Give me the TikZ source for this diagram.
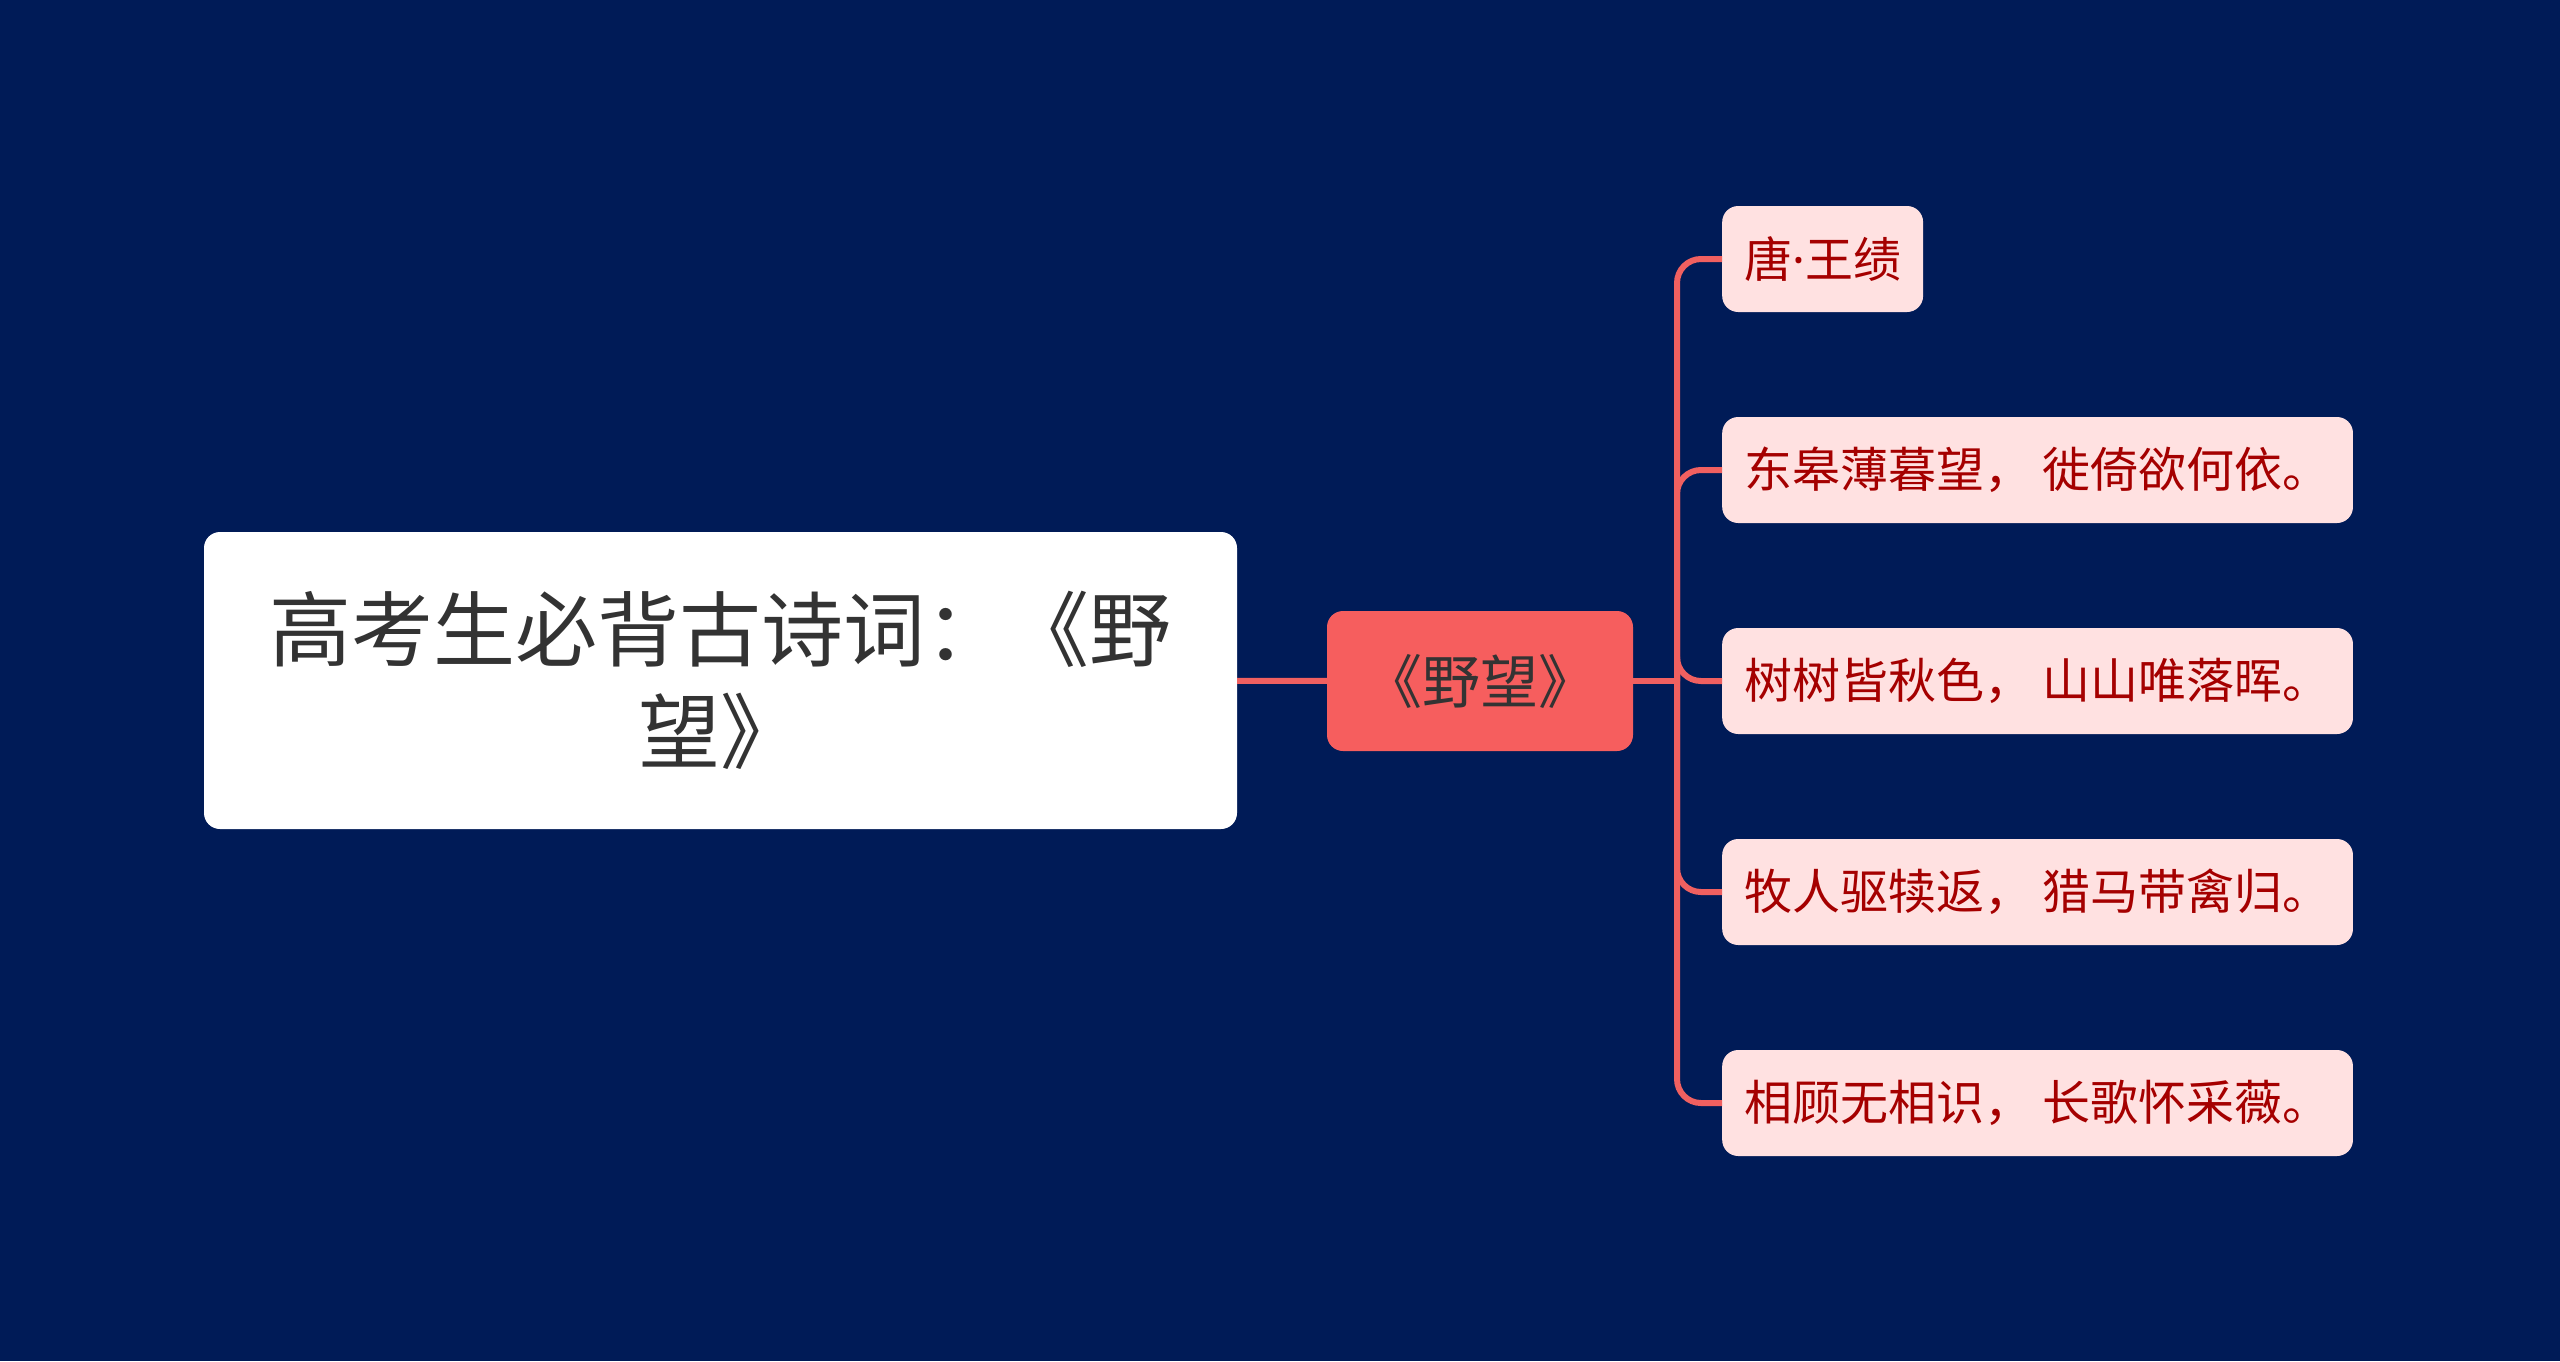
\documentclass[tikz,border=0pt]{standalone}
\usepackage{fontspec}
\setmainfont{Noto Sans CJK SC}
\newfontfamily\dotfont{Noto Sans}
\usepackage{xcolor}
\usetikzlibrary{positioning, math}
\definecolor{mybg}{RGB}{0,27,87}
\definecolor{myline}{RGB}{240,96,96}
\definecolor{mymid}{RGB}{246,94,94}
\definecolor{myleaf}{RGB}{255,225,225}
\definecolor{myleaftext}{RGB}{165,0,0}
\definecolor{mytext}{RGB}{51,51,51}

\begin{document}
\begin{tikzpicture}[x=1pt,y=-1pt,
  titlebox/.style={fill=white, rounded corners=16, minimum width=1033, minimum height=297,
    align=center, text=mytext, font=\fontsize{82}{102}\selectfont},
  poembox/.style={fill=mymid, rounded corners=16, minimum width=306, minimum height=140,
    text=mytext, font=\fontsize{58}{62}\selectfont},
  linebox/.style={fill=myleaf, rounded corners=16, minimum height=106, inner xsep=22,
    anchor=west, text=myleaftext, font=\fontsize{48}{52}\selectfont},
  link/.style={draw=myline, line width=6}]
\tikzmath{
\dy=211;
\yc=681;
}

\fill[mybg] (0,0) rectangle (2560,1361);

\node[titlebox] (T) at (720.5,680.5) {高考生必背古诗词：《野\\望》};
\node[poembox] (P) at (1480,\yc) {《野望》};

\node[linebox] (L1) at (1722,\yc-2*\dy) {唐{\dotfont ·}王绩};
\node[linebox] (L2) at (1722,\yc-\dy) {东皋薄暮望， 徙倚欲何依。};
\node[linebox] (L3) at (1722,\yc) {树树皆秋色， 山山唯落晖。};
\node[linebox] (L4) at (1722,\yc+\dy) {牧人驱犊返， 猎马带禽归。};
\node[linebox] (L5) at (1722,\yc+2*\dy) {相顾无相识， 长歌怀采薇。};

\coordinate (hub) at (1677,\yc);

\draw[link] (T) -- (P);
\draw[link] (P) -- (hub);
\foreach \n in {L1,L2,L3,L4,L5}
  \draw[link, rounded corners=24] (hub) |- (\n.west);

\end{tikzpicture}
\end{document}
